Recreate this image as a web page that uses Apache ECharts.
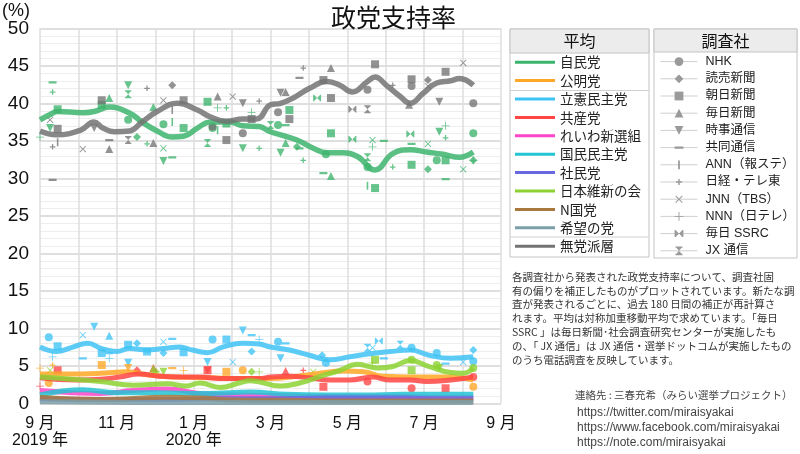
<!DOCTYPE html>
<html><head><meta charset="utf-8">
<script src="https://cdn.jsdelivr.net/npm/echarts@6/dist/echarts.min.js"></script>
<style>html,body{margin:0;padding:0;background:#fff}#c{width:800px;height:454px}</style>
</head><body><div id="c"></div>
<script>
// ---------- categories ----------
const parties = ['自民党','公明党','立憲民主党','共産党','れいわ新選組','国民民主党','社民党','日本維新の会','N国党','希望の党','無党派層'];
const partyColors = ['#3db46d','#ffa726','#3fc3f5','#ff4444','#ff46c8','#22c4d4','#6868e0','#8cd232','#a8783c','#7c9ea8','#737373'];
const xTickLabels = ['9 月\n2019 年','','11 月','','1 月\n2020 年','','3 月','','5 月','','7 月','','9 月'];

// ---------- averages (weighted moving average) ----------
const avgLDP = [['2019-09-01',37.8],['2019-09-09',38.5],['2019-09-15',38.9],['2019-10-05',38.75],['2019-10-14',38.9],['2019-10-26',39.5],['2019-11-11',38.7],['2019-11-21',37.5],['2019-12-03',36.3],['2019-12-15',35.5],['2019-12-24',35.6],['2020-01-04',36.7],['2020-01-14',37.5],['2020-01-30',37.5],['2020-02-09',37.0],['2020-02-22',36.9],['2020-03-02',36.2],['2020-03-10',35.8],['2020-03-23',35.1],['2020-04-05',34.0],['2020-04-16',33.4],['2020-04-28',33.4],['2020-05-10',32.9],['2020-05-24',31.1],['2020-06-07',33.3],['2020-06-21',33.8],['2020-07-04',33.5],['2020-07-17',33.2],['2020-07-30',32.8],['2020-08-10',33.5]];
const avgKomei = [['2019-09-01',3.9],['2019-09-22',3.9],['2019-10-19',4.0],['2019-11-09',4.2],['2019-11-25',3.8],['2019-12-15',3.5],['2020-01-14',3.4],['2020-02-09',3.3],['2020-03-02',3.3],['2020-03-23',3.6],['2020-04-10',4.0],['2020-04-28',4.3],['2020-05-15',4.2],['2020-05-30',3.6],['2020-06-26',3.5],['2020-07-23',3.5],['2020-08-10',3.1]];
const avgCDP = [['2019-09-01',7.5],['2019-09-14',6.9],['2019-09-27',7.5],['2019-10-09',8.0],['2019-10-20',7.3],['2019-11-01',6.9],['2019-11-11',7.3],['2019-11-25',7.1],['2019-12-08',7.3],['2019-12-21',7.5],['2019-12-31',7.1],['2020-01-12',6.75],['2020-01-24',7.5],['2020-02-09',8.0],['2020-02-22',7.9],['2020-03-02',7.5],['2020-03-17',7.1],['2020-04-02',6.4],['2020-04-18',5.8],['2020-05-04',6.2],['2020-05-20',6.6],['2020-06-05',6.9],['2020-06-21',7.1],['2020-07-06',6.4],['2020-07-23',6.0],['2020-08-10',6.2]];
const avgJCP = [['2019-09-01',3.4],['2019-09-30',3.1],['2019-10-19',3.2],['2019-11-03',3.5],['2019-11-19',3.9],['2019-12-05',3.6],['2019-12-21',3.5],['2020-01-06',3.5],['2020-01-22',3.3],['2020-02-06',3.3],['2020-02-22',3.3],['2020-03-02',3.5],['2020-03-17',3.6],['2020-04-02',3.4],['2020-04-18',3.1],['2020-05-04',3.1],['2020-05-22',3.5],['2020-06-05',3.1],['2020-06-21',3.1],['2020-07-04',2.9],['2020-07-23',3.1],['2020-08-10',3.5]];
const avgReiwa = [['2019-09-01',1.7],['2019-10-19',1.3],['2019-11-14',1.7],['2019-12-11',1.9],['2020-01-06',1.3],['2020-02-01',1.1],['2020-03-15',1.0],['2020-04-15',0.9],['2020-05-15',0.9],['2020-06-15',0.9],['2020-07-15',0.8],['2020-08-10',0.8]];
const avgDPFP = [['2019-09-01',1.1],['2019-10-05',1.8],['2019-11-01',1.4],['2019-12-01',1.4],['2020-01-12',1.3],['2020-02-15',1.5],['2020-03-15',1.2],['2020-04-15',1.1],['2020-05-15',1.1],['2020-06-15',1.2],['2020-07-15',1.2],['2020-08-10',1.2]];
const avgSDP = [['2019-09-01',0.6],['2019-10-15',0.5],['2019-12-11',0.5],['2020-01-15',0.6],['2020-03-01',0.6],['2020-04-15',0.7],['2020-05-15',0.7],['2020-06-15',0.7],['2020-07-15',0.6],['2020-08-10',0.6]];
const avgIshin = [['2019-09-01',3.5],['2019-10-19',2.9],['2019-11-14',2.4],['2019-12-11',2.6],['2019-12-26',2.3],['2020-01-06',2.7],['2020-01-22',2.1],['2020-02-06',2.7],['2020-02-15',3.0],['2020-03-10',2.3],['2020-03-25',2.7],['2020-04-10',3.55],['2020-04-26',4.4],['2020-05-10',5.2],['2020-05-26',4.7],['2020-06-07',4.9],['2020-06-21',5.7],['2020-07-06',4.9],['2020-07-23',4.1],['2020-08-02',4.0],['2020-08-10',4.7]];
const avgNHK = [['2019-09-01',0.8],['2019-10-19',0.5],['2019-12-11',0.8],['2020-01-06',0.7],['2020-02-01',0.45],['2020-03-15',0.4],['2020-05-01',0.3],['2020-06-15',0.3],['2020-08-10',0.3]];
const avgKibo = [['2019-09-01',0.2],['2019-12-01',0.1],['2020-04-01',0.1],['2020-08-10',0.1]];
const avgIndep = [['2019-09-01',36.3],['2019-09-14',35.8],['2019-10-03',36.4],['2019-10-14',37.5],['2019-10-21',36.7],['2019-10-30',36.2],['2019-11-11',36.3],['2019-11-21',37.5],['2019-12-03',38.9],['2019-12-19',40.0],['2020-01-04',39.1],['2020-01-14',38.2],['2020-01-27',37.6],['2020-02-09',37.9],['2020-02-20',37.9],['2020-03-02',39.8],['2020-03-10',40.0],['2020-03-20',40.7],['2020-04-02',42.0],['2020-04-16',42.9],['2020-04-26',42.4],['2020-05-06',41.5],['2020-05-18',42.9],['2020-05-24',43.5],['2020-06-02',42.4],['2020-06-13',40.9],['2020-06-21',40.0],['2020-07-01',41.3],['2020-07-12',42.7],['2020-07-23',43.0],['2020-07-30',43.3],['2020-08-10',42.4]];
const averages = [avgLDP, avgKomei, avgCDP, avgJCP, avgReiwa, avgDPFP, avgSDP, avgIshin, avgNHK, avgKibo, avgIndep];

// ---------- pollster (bias-corrected) points ----------
// columns: [date, 自民党, 無党派層, 立憲民主党, 公明党, 共産党, 日本維新の会]
const pollColumns = ['自民党','無党派層','立憲民主党','公明党','共産党','日本維新の会'];
const pNHK = [['2019-09-08',null,null,8.8,2.7,null,null],['2019-11-10',37.8,null,null,null,null,null],['2019-12-08',37.2,null,null,null,null,null],['2020-01-16',36.7,36.9,8.5,null,null,null],['2020-02-09',null,36.0,null,4.4,null,null],['2020-03-08',37.1,38.8,8.2,null,null,null],['2020-04-15',33.2,null,5.4,null,null,null],['2020-05-18',31.5,41.8,null,null,2.9,null],['2020-06-22',null,42.3,7.4,null,2.0,5.8],['2020-07-12',32.4,null,6.7,null,null,5.1],['2020-08-10',36.0,40.0,5.6,2.2,3.5,4.7]];
const pYomiuri = [['2019-11-17',35.5,null,8.0,null,4.4,null],['2019-12-02',null,null,null,null,null,4.2],['2019-12-08',null,null,6.7,null,null,null],['2019-12-15',null,42.4,null,null,null,null],['2020-02-16',null,null,6.9,null,null,4.2],['2020-03-23',34.2,null,null,null,null,null],['2020-04-12',null,null,6.4,null,null,null],['2020-07-05',31.2,43.1,null,null,null,null],['2020-08-10',32.4,null,7.1,null,null,null]];
const pAsahi = [['2019-09-15',39.2,36.6,7.6,null,4.4,null],['2019-10-20',39.8,40.4,6.7,5.1,null,null],['2019-11-10',null,null,7.8,null,null,null],['2019-11-25',null,null,6.9,null,null,null],['2019-12-24',36.7,40.4,6.8,null,null,null],['2020-01-12',40.2,null,null,null,4.4,null],['2020-01-27',37.3,35.1,8.5,4.2,null,null],['2020-02-16',null,37.9,null,null,null,null],['2020-03-17',39.1,37.9,null,null,null,null],['2020-04-13',null,43.1,null,null,2.2,null],['2020-04-19',36.0,40.7,null,null,null,null],['2020-05-24',28.7,45.2,null,null,null,5.8],['2020-06-22',31.8,43.2,null,null,null,4.4],['2020-07-19',32.4,44.2,null,null,2.0,null]];
const pMainichi = [['2019-10-26',40.7,33.9,9.0,null,null,null],['2019-11-30',39.5,34.7,null,null,4.7,4.6],['2020-01-20',null,40.9,null,null,null,null],['2020-03-14',34.7,41.5,null,null,4.3,null],['2020-04-19',30.3,44.7,null,null,null,null],['2020-06-20',null,39.8,null,null,null,null]];
const pJiji = [['2019-09-09',36.7,null,null,null,null,null],['2019-10-14',null,36.7,10.2,null,null,null],['2019-11-10',42.4,null,5.4,4.7,null,null],['2019-12-08',32.3,null,null,null,null,4.2],['2020-01-12',null,null,5.5,null,4.4,null],['2020-02-09',34.0,40.0,9.7,null,null,null],['2020-03-10',33.4,41.4,6.0,null,null,null],['2020-07-14',36.2,40.2,null,null,null,4.7]];
const pKyodo = [['2019-09-11',42.8,29.8,null,null,null,null],['2019-10-05',null,null,6.0,null,null,null],['2019-10-26',null,35.1,6.7,null,null,null],['2019-12-15',32.8,null,8.6,4.7,null,null],['2020-02-16',null,null,9.1,null,null,null],['2020-03-14',37.1,null,8.0,null,null,null],['2020-03-25',34.0,43.4,null,null,null,null],['2020-04-13',30.7,null,null,null,null,null],['2020-05-31',35.0,null,6.0,null,null,null],['2020-06-22',34.6,null,null,null,null,null],['2020-07-19',29.9,null,5.3,null,null,null]];
const pANN = [['2019-09-15',null,34.8,null,null,null,null],['2019-12-15',37.5,39.1,null,null,null,null],['2020-01-20',36.4,null,null,null,null,null],['2020-05-18',29.0,null,null,null,null,null]];
const pNikkei = [['2019-09-11',41.5,34.2,null,5.1,null,null],['2019-11-25',34.6,42.0,null,null,null,null],['2020-01-27',39.4,null,null,null,null,null],['2020-02-22',34.0,40.3,null,null,null,null],['2020-03-28',32.4,44.7,null,null,4.4,null],['2020-06-07',31.5,42.4,null,null,null,null],['2020-07-19',35.4,null,null,null,null,null]];
const pJNN = [['2019-09-09',null,37.8,null,null,null,4.4],['2019-10-05',null,33.9,9.1,null,null,null],['2019-12-08',34.0,40.4,8.2,null,null,null],['2020-02-01',null,40.9,5.5,null,null,null],['2020-04-05',null,null,null,null,null,4.2],['2020-05-22',35.1,null,7.4,null,null,null],['2020-07-05',34.6,42.3,null,null,null,null],['2020-08-02',31.2,45.4,5.5,null,null,null]];
const pNNN = [['2019-09-01',35.5,null,null,4.7,2.3,null],['2019-09-11',null,null,6.2,null,null,null],['2019-10-26',null,null,6.0,null,null,null],['2019-12-24',null,null,null,4.4,null,null],['2020-01-20',39.4,null,null,null,null,null],['2020-02-16',38.8,null,null,null,null,null],['2020-02-22',null,null,8.5,null,null,4.2],['2020-05-22',34.2,null,null,null,null,5.4],['2020-07-19',37.0,null,null,null,null,null],['2020-08-10',32.4,null,null,null,null,null]];
const pSSRC = [['2020-04-08',40.7,null,null,null,null,null],['2020-05-06',35.2,39.2,null,null,null,null],['2020-05-27',null,null,8.3,null,null,null],['2020-06-21',35.9,null,null,null,null,null]];
const pJX = [['2019-11-10',41.2,35.1,null,null,null,null],['2020-01-12',34.7,null,null,null,null,null],['2020-03-02',37.1,null,null,null,null,null],['2020-05-18',32.8,39.2,7.4,null,null,null],['2020-06-13',null,null,7.8,null,null,null]];

const pollsters = ['NHK','読売新聞','朝日新聞','毎日新聞','時事通信','共同通信','ANN（報ステ）','日経・テレ東','JNN（TBS）','NNN（日テレ）','毎日 SSRC','JX 通信'];
const pollData = [pNHK,pYomiuri,pAsahi,pMainichi,pJiji,pKyodo,pANN,pNikkei,pJNN,pNNN,pSSRC,pJX];
const A = 'M0,0L0,0ZM10,10L10,10Z';
const pollSymbols = ['circle','diamond','rect','triangle',
  'path://M0,1L10,1L5,9.5Z',
  'path://'+A+'M0,3.8h10v2.6h-10z',
  'path://'+A+'M4,0h2v10h-2z',
  'path://'+A+'M4.2,1.5h1.6v7h-1.6zM1.5,4.2h7v1.6h-7z',
  'path://'+A+'M0.8,1.6L1.6,0.8L9.2,8.4L8.4,9.2ZM8.4,0.8L9.2,1.6L1.6,9.2L0.8,8.4Z',
  'path://'+A+'M4.5,0h1v10h-1zM0,4.5h10v1h-10z',
  'path://'+A+'M0,1h1.6v8h-1.6zM10,1h-1.6v8h1.6zM1.6,1.5L5,5L1.6,8.5ZM8.4,1.5L5,5L8.4,8.5Z',
  'path://'+A+'M1,0h8v1.6h-8zM1,8.4h8v1.6h-8zM2,1.6L8,1.6L5,5ZM2,8.4L8,8.4L5,5Z'];

// ---------- build ----------
const t0 = Date.UTC(2019, 8, 1);
const day = s => (Date.parse(s) - t0) / 864e5;
const cjk = '"Noto Sans CJK JP", sans-serif';
const latin = '"Liberation Sans", "Noto Sans CJK JP", sans-serif';

const series = [];
parties.forEach((p, i) => {
  series.push({
    type: 'line', name: p, smooth: 0.45, symbol: 'none', z: 5,
    data: averages[i].map(([d, v]) => [day(d), v]),
    itemStyle: { color: partyColors[i] },
    lineStyle: { color: partyColors[i], width: (i === 0 || i === 10) ? 5.5 : 5, opacity: 0.85 },
    emphasis: { disabled: true }
  });
});
pollsters.forEach((name, k) => {
  const pts = [];
  pollData[k].forEach(row => {
    pollColumns.forEach((col, c) => {
      const v = row[c + 1];
      if (v !== null) pts.push({ value: [day(row[0]), v], itemStyle: { color: partyColors[parties.indexOf(col)], opacity: 0.78 } });
    });
  });
  series.push({
    type: 'line', name, data: pts, symbol: pollSymbols[k], symbolSize: 8,
    showSymbol: true, showAllSymbol: true, z: 2,
    lineStyle: { width: 1, opacity: 0 },
    itemStyle: { color: '#9a9a9a', borderWidth: 0 },
    emphasis: { disabled: true }
  });
});

const note = ['各調査社から発表された政党支持率について、調査社固',
  '有の偏りを補正したものがプロットされています。新たな調',
  '査が発表されるごとに、過去 180 日間の補正が再計算さ',
  'れます。平均は対称加重移動平均で求めています。「毎日',
  'SSRC 」は毎日新聞･社会調査研究センターが実施したも',
  'の、「 JX 通信」は JX 通信・選挙ドットコムが実施したもの',
  'のうち電話調査を反映しています。'].join('\n');

const chart = echarts.init(document.getElementById('c'), null, { renderer: 'canvas' });
chart.setOption({
  animation: false,
  backgroundColor: '#fff',
  title: { text: '政党支持率', left: 326, top: 0, textStyle: { fontSize: 25, fontWeight: 'normal', fontFamily: cjk, color: '#111' } },
  grid: { left: 40, right: 299, top: 28.3, bottom: 50.7 },
  xAxis: {
    type: 'value', min: 0, max: 366, interval: 30.5,
    axisLine: { show: false }, axisTick: { show: false },
    axisLabel: {
      formatter: v => xTickLabels[Math.round(v / 30.5)] || '',
      fontSize: 16, fontFamily: latin, color: '#111', lineHeight: 17, margin: 12,
      showMinLabel: true, showMaxLabel: true
    },
    splitLine: { show: true, lineStyle: { color: '#dedede', width: 1.5 } },
    minorSplitLine: { show: false }
  },
  yAxis: {
    type: 'value', min: 0, max: 50, interval: 5,
    axisLine: { show: false }, axisTick: { show: false },
    axisLabel: { fontSize: 19, fontFamily: latin, color: '#111', margin: 11 },
    splitLine: { lineStyle: { color: '#d4d4d4', width: 1.5 } },
    minorTick: { show: false, splitNumber: 5 },
    minorSplitLine: { show: true, lineStyle: { color: '#eeeeee', width: 1 } }
  },
  legend: [
    {
      data: parties, orient: 'vertical', left: 515, top: 53, padding: 0, itemGap: 0,
      icon: 'rect', itemWidth: 40, itemHeight: 3, selectedMode: false,
      textStyle: { fontSize: 13.5, lineHeight: 18.4, fontFamily: cjk, color: '#222' }
    },
    {
      data: pollsters, orient: 'vertical', left: 660, top: 53, padding: 0, itemGap: 0,
      itemWidth: 37, itemHeight: 11, selectedMode: false,
      itemStyle: { color: '#9a9a9a', opacity: 1, borderWidth: 0 },
      lineStyle: { color: '#cfcfcf', width: 1, opacity: 1 },
      textStyle: { fontSize: 12.5, lineHeight: 17.2, fontFamily: latin, color: '#222', padding: [0, 0, 0, 3] }
    }
  ],
  graphic: [
    { type: 'text', left: 2, top: 2, style: { text: '(%)', font: '18px "Liberation Sans"', fill: '#111' } },
    { type: 'rect', shape: { x: 510, y: 29, width: 139, height: 228 }, style: { fill: 'none', stroke: '#c4c4c4', lineWidth: 1 }, z: 1 },
    { type: 'rect', shape: { x: 510, y: 29, width: 139, height: 24 }, style: { fill: '#ececec', stroke: '#c4c4c4', lineWidth: 1 }, z: 1 },
    { type: 'text', x: 579.5, y: 41, style: { text: '平均', font: '16px "Noto Sans CJK JP"', fill: '#111', align: 'center', verticalAlign: 'middle' }, z: 2 },
    { type: 'line', shape: { x1: 510, y1: 90.5, x2: 649, y2: 90.5 }, style: { stroke: '#d0d0d0', lineWidth: 1 }, z: 1 },
    { type: 'line', shape: { x1: 510, y1: 237, x2: 649, y2: 237 }, style: { stroke: '#d0d0d0', lineWidth: 1 }, z: 1 },
    { type: 'rect', shape: { x: 654, y: 29, width: 143, height: 229 }, style: { fill: 'none', stroke: '#c4c4c4', lineWidth: 1 }, z: 1 },
    { type: 'rect', shape: { x: 654, y: 29, width: 143, height: 23 }, style: { fill: '#ececec', stroke: '#c4c4c4', lineWidth: 1 }, z: 1 },
    { type: 'text', x: 725.5, y: 40.5, style: { text: '調査社', font: '16px "Noto Sans CJK JP"', fill: '#111', align: 'center', verticalAlign: 'middle' }, z: 2 },
    { type: 'text', x: 512, y: 270, style: { text: note, font: '10.5px "Noto Sans CJK JP"', lineHeight: 13.8, fill: '#333' } },
    { type: 'text', x: 575, y: 390, style: { text: '連絡先 : 三春充希（みらい選挙プロジェクト）', font: '10.5px "Noto Sans CJK JP"', fill: '#444' } },
    { type: 'text', x: 577, y: 405, style: { text: 'https://twitter.com/miraisyakai\nhttps://www.facebook.com/miraisyakai\nhttps://note.com/miraisyakai', font: '12px "Liberation Sans"', lineHeight: 15, fill: '#444' } }
  ],
  series
});
</script></body></html>
